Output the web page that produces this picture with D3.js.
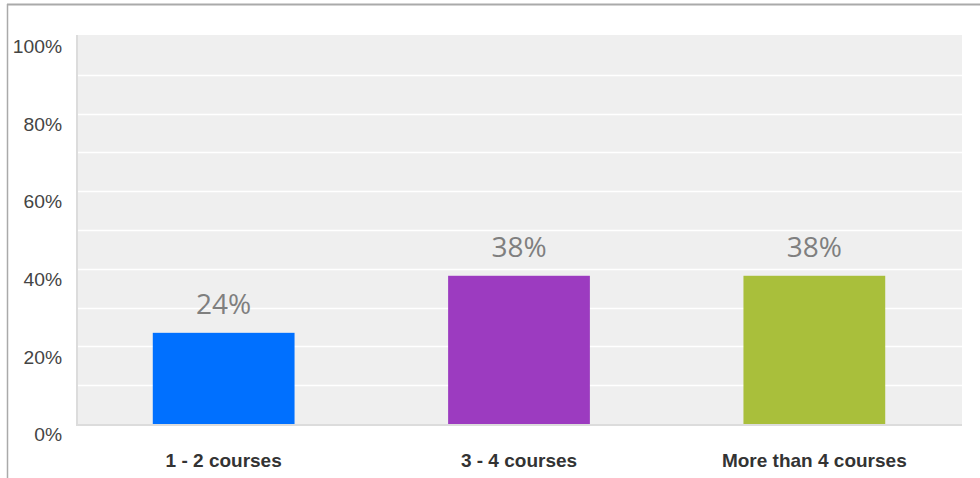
<!DOCTYPE html>
<html><head><meta charset="utf-8">
<script src="https://cdn.jsdelivr.net/npm/d3@7/dist/d3.min.js"></script>
<style>html,body{margin:0;padding:0;background:#fff;}svg{display:block;}</style>
</head><body>
<svg id="c" width="980" height="478"></svg>
<script>
const categories = ["1 - 2 courses", "3 - 4 courses", "More than 4 courses"];
const values = [23.5, 38.2, 38.2];
const valueLabels = ["24%", "38%", "38%"];
const colors = ["#0070ff", "#9c3bc0", "#a9bf3b"];
const yTicks = [0, 20, 40, 60, 80, 100];
const gridTicks = [10, 20, 30, 40, 50, 60, 70, 80, 90];

const svg = d3.select("#c");
// outer frame
svg.append("line").attr("x1", 7).attr("x2", 980).attr("y1", 4.5).attr("y2", 4.5).attr("stroke", "#aaa").attr("stroke-width", 2);
svg.append("line").attr("x1", 7.5).attr("x2", 7.5).attr("y1", 4).attr("y2", 478).attr("stroke", "#aaa").attr("stroke-width", 1.5);

const L = 76, R = 962, T = 36, B = 424;
const x = d3.scaleBand().domain(categories).range([L, R]).paddingInner(0.52).paddingOuter(0.26);
const y = d3.scaleLinear().domain([0, 100]).range([B, T]);

svg.append("rect").attr("x", L).attr("y", T - 1).attr("width", R - L).attr("height", B - T + 1).attr("fill", "#efefef");
svg.append("rect").attr("x", L).attr("y", T - 1).attr("width", 2).attr("height", B - T + 3).attr("fill", "#dcdcdc");
svg.append("rect").attr("x", L).attr("y", B).attr("width", R - L).attr("height", 2).attr("fill", "#dcdcdc");

svg.append("g").selectAll("line").data(gridTicks).join("line")
  .attr("x1", L + 2).attr("x2", R).attr("y1", d => Math.round(y(d)) + 0.5).attr("y2", d => Math.round(y(d)) + 0.5)
  .attr("stroke", "#fff").attr("stroke-width", 1.5);

// y tick labels
svg.append("g").selectAll("text").data(yTicks).join("text")
  .attr("transform", d => `translate(62,${y(d) + 11}) scale(1.1,1)`)
  .attr("dy", "0.35em")
  .attr("text-anchor", "end").attr("font-family", "Liberation Sans, Arial, sans-serif")
  .attr("font-size", 17.5).attr("fill", "#444").text(d => d + "%");

// bars
svg.append("g").selectAll("rect").data(values).join("rect")
  .attr("x", (d, i) => x(categories[i])).attr("width", x.bandwidth())
  .attr("y", d => y(d)).attr("height", d => B - y(d))
  .attr("fill", (d, i) => colors[i]);

// value labels
svg.append("g").selectAll("text").data(values).join("text")
  .attr("x", (d, i) => x(categories[i]) + x.bandwidth() / 2).attr("y", d => y(d) - 29).attr("dy", "0.35em")
  .attr("text-anchor", "middle").attr("font-family", "Open Sans, sans-serif")
  .attr("font-size", 28).attr("fill", "#7f7f7f").text((d, i) => valueLabels[i]);

// category labels
svg.append("g").selectAll("text").data(categories).join("text")
  .attr("x", d => x(d) + x.bandwidth() / 2).attr("y", 460).attr("dy", "0.35em")
  .attr("text-anchor", "middle").attr("font-family", "Liberation Sans, Arial, sans-serif")
  .attr("font-weight", "bold").attr("font-size", 19).attr("fill", "#333").text(d => d);
</script>
</body></html>
